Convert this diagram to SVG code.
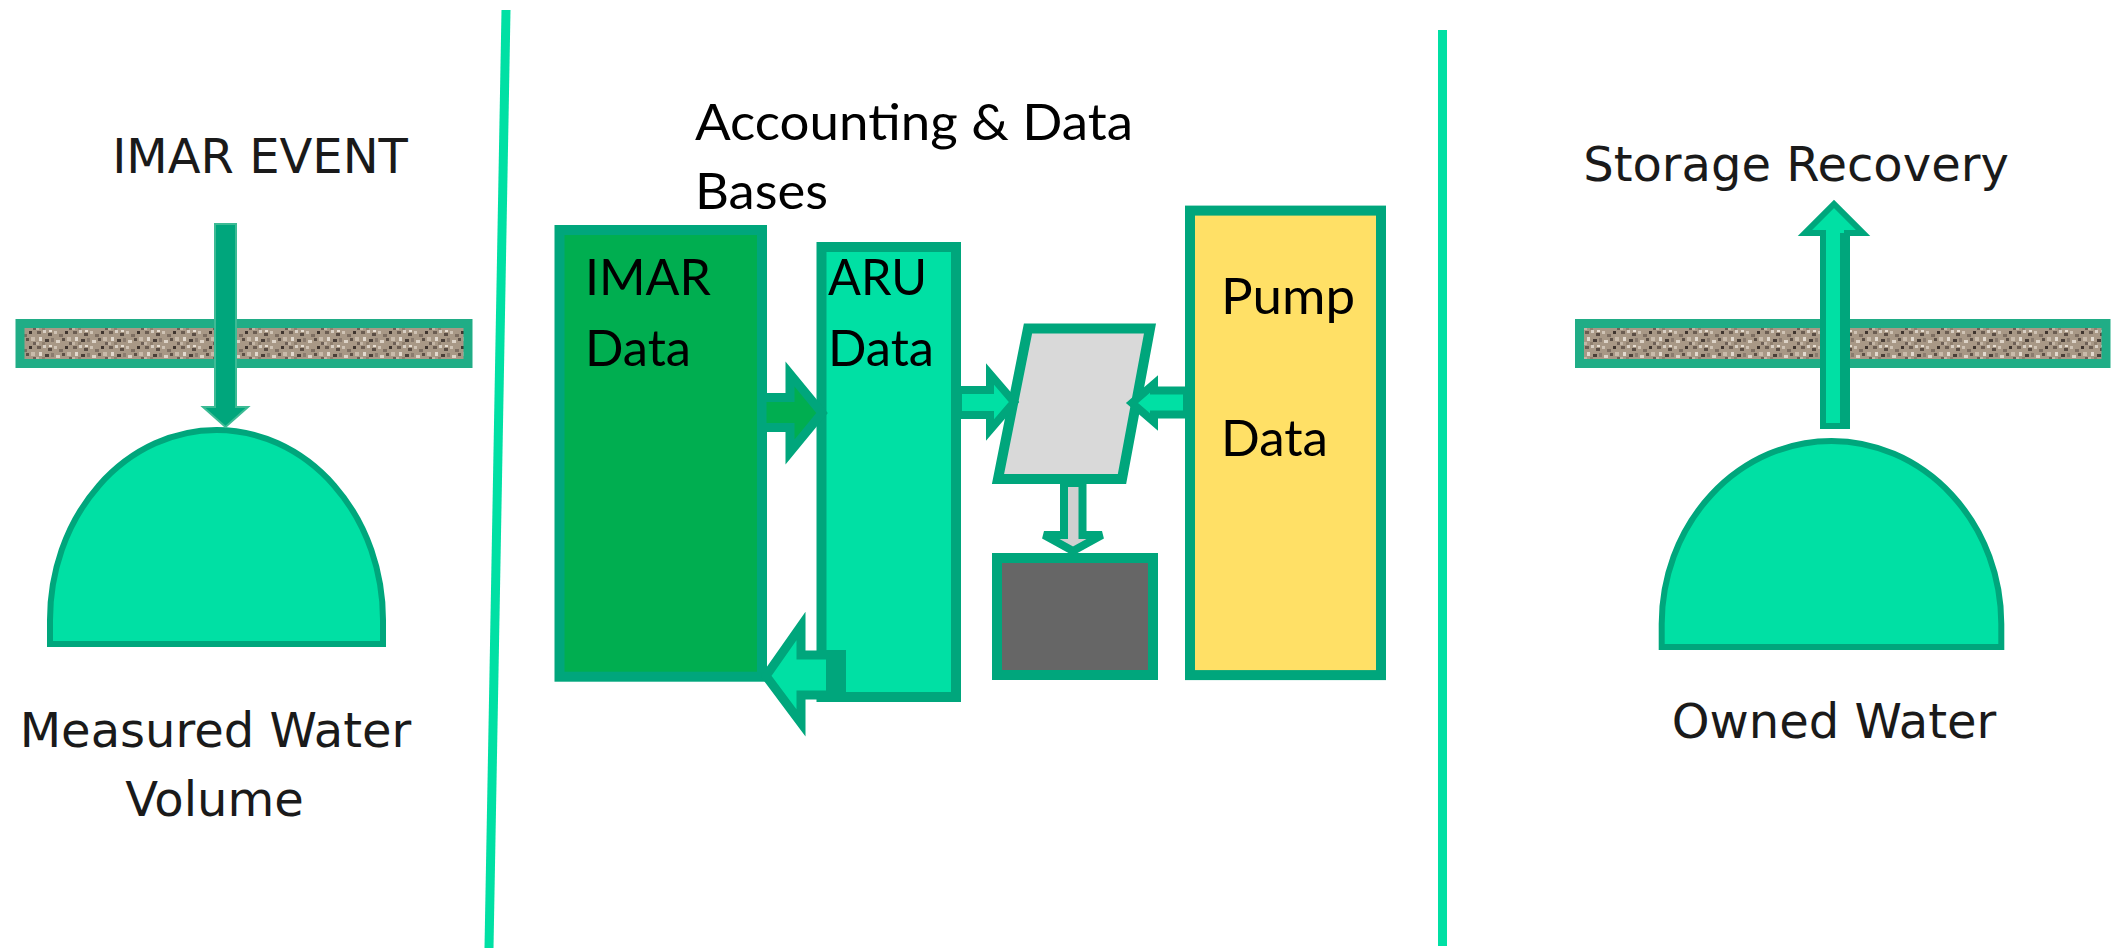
<svg xmlns="http://www.w3.org/2000/svg" width="2118" height="948" viewBox="0 0 2118 948">
<style>
.lbl{font-family:"DejaVu Sans",Verdana,sans-serif;font-size:48px;fill:#1a1a1a}
.mid{font-family:Lato,"Open Sans",sans-serif;font-size:51px;fill:#000}
.box{stroke:#00a67c;stroke-width:10}
.arr{stroke:#00a67c;stroke-linejoin:miter}
.bar{stroke:#20ad86;stroke-width:9;fill:url(#gravel)}
.dome{fill:#00e0a4;stroke:#00a67c;stroke-width:6}
.div{stroke:#00e0a4;stroke-width:9}
</style>
<defs>
<pattern id="gravel" width="36" height="15" patternUnits="userSpaceOnUse">
<rect width="36" height="15" fill="#a89886"/>
<rect x="1" y="1" width="4" height="3" fill="#6b5d52"/>
<rect x="7" y="0" width="3" height="3" fill="#d8cfc4"/>
<rect x="12" y="3" width="4" height="3" fill="#5a4d44"/>
<rect x="18" y="1" width="3" height="3" fill="#cfc3b5"/>
<rect x="23" y="4" width="4" height="3" fill="#7d6e61"/>
<rect x="29" y="1" width="3" height="3" fill="#3f352f"/>
<rect x="3" y="7" width="3" height="4" fill="#e2d9ce"/>
<rect x="9" y="9" width="4" height="3" fill="#4a3f38"/>
<rect x="15" y="8" width="3" height="4" fill="#8a7b6e"/>
<rect x="20" y="10" width="4" height="3" fill="#dcd2c6"/>
<rect x="26" y="8" width="3" height="3" fill="#5e5147"/>
<rect x="31" y="7" width="4" height="4" fill="#c9bbab"/>
<rect x="0" y="12" width="3" height="3" fill="#c4b6a6"/>
<rect x="33" y="12" width="3" height="3" fill="#6e6056"/>
<rect x="13" y="0" width="3" height="2" fill="#e6ddd2"/>
<rect x="6" y="12" width="3" height="3" fill="#90806f"/>
</pattern>
</defs>

<g id="dividers">
<line class="div" x1="506" y1="10" x2="489" y2="948"/>
<line class="div" x1="1442.5" y1="30" x2="1442.5" y2="946"/>
</g>

<g id="left-panel">
<text class="lbl" x="260" y="173" text-anchor="middle">IMAR EVENT</text>
<rect id="left-bar" class="bar" x="20" y="323.5" width="448" height="40"/>
<path id="measured-water" class="dome" d="M50,644 L50,620 A166.5,190 0 0 1 383,620 L383,644 Z"/>
<polygon id="imar-event-arrow" points="215,224 236,224 236,407 248,407 225.5,427 203,407 215,407" fill="#00a67c" stroke="#3dbb95" stroke-width="2"/>
<text class="lbl" x="215.5" y="747" text-anchor="middle">Measured Water</text>
<text class="lbl" x="214.5" y="816" text-anchor="middle">Volume</text>
</g>

<g id="middle-panel">
<text class="mid" x="695" y="140" textLength="438" lengthAdjust="spacingAndGlyphs">Accounting &amp; Data</text>
<text class="mid" x="695" y="209" textLength="133" lengthAdjust="spacingAndGlyphs">Bases</text>
<g id="imar-data">
<rect class="box" x="559.5" y="230" width="202.5" height="446.7" fill="#00ae50"/>
<text class="mid" x="585" y="295" textLength="126" lengthAdjust="spacingAndGlyphs">IMAR</text>
<text class="mid" x="585" y="366" textLength="106" lengthAdjust="spacingAndGlyphs">Data</text>
</g>
<g id="aru-data">
<rect class="box" x="821.5" y="247" width="134.5" height="450" fill="#00e0a4"/>
<text class="mid" x="828" y="295" textLength="99" lengthAdjust="spacingAndGlyphs">ARU</text>
<text class="mid" x="828" y="366" textLength="106" lengthAdjust="spacingAndGlyphs">Data</text>
</g>
<g id="processor">
<polygon class="box" points="1028,328.5 1150,328.5 1122,479 998,479" fill="#d9d9d9"/>
</g>
<g id="output">
<rect class="box" x="997" y="558" width="156" height="117" fill="#666666"/>
</g>
<g id="pump-data">
<rect class="box" x="1190" y="210.6" width="191" height="464.5" fill="#ffe066"/>
<text class="mid" x="1221" y="314" textLength="134" lengthAdjust="spacingAndGlyphs">Pump</text>
<text class="mid" x="1221" y="456" textLength="107" lengthAdjust="spacingAndGlyphs">Data</text>
</g>
</g>

<g id="right-panel">
<text class="lbl" x="1796" y="181" text-anchor="middle">Storage Recovery</text>
<rect id="right-bar" class="bar" x="1579.5" y="323.5" width="526.5" height="40"/>
<path id="owned-water" class="dome" d="M1661.7,647 L1661.7,624 A169.8,183 0 0 1 2001.3,624 L2001.3,647 Z"/>
<text class="lbl" x="1834" y="738" text-anchor="middle">Owned Water</text>
</g>

<g id="connectors">
<polygon class="arr" points="762,397.5 790,397.5 790,374 822,413 790,452 790,427.5 762,427.5" fill="#00ae50" stroke-width="9"/>
<polygon class="arr" points="958,390 990,390 990,374 1014,402 990,430 990,415 958,415" fill="#00e0a4" stroke-width="8"/>
<polygon class="arr" points="1187,390.5 1154,390.5 1154,384 1132,403 1154,422 1154,414.5 1187,414.5" fill="#00e0a4" stroke-width="8"/>
<polygon class="arr" points="1064,483 1082.5,483 1082.5,535 1102,535 1073,551 1044,535 1064,535" fill="#d0d0d0" stroke-width="8"/>
<polygon class="arr" points="841,655 801,655 801,626 766,676 801,723 801,695 841,695" fill="#00e0a4" stroke-width="9"/>
<rect x="826" y="650" width="20" height="45" fill="#00a67c"/>
<polygon id="storage-recovery-arrow" class="arr" points="1823,426 1823,233 1805,233 1834,204 1863,233 1847,233 1847,426" fill="#00e0a4" stroke-width="6"/>
<rect x="1840" y="233" width="9" height="195" fill="#00a67c"/>
</g>
</svg>
